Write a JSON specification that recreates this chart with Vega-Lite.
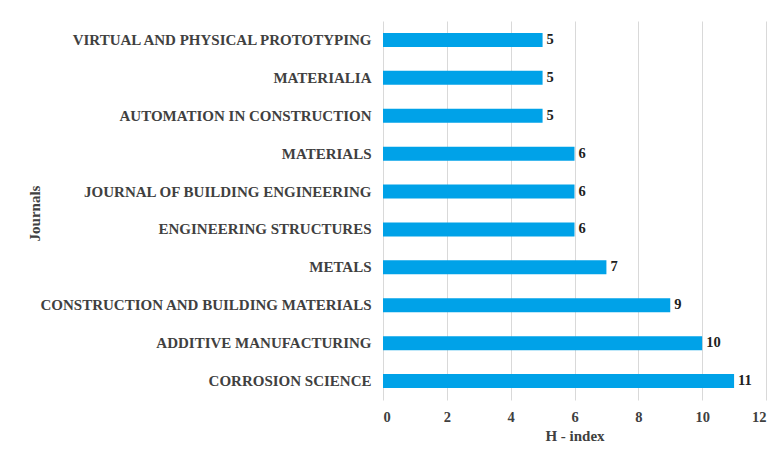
{
  "$schema": "https://vega.github.io/schema/vega-lite/v6.json",
  "autosize": {"type": "none"},
  "width": 383,
  "height": 379,
  "padding": {"left": 383, "top": 21, "right": 8, "bottom": 57},
  "background": "white",
  "config": {
    "view": {"stroke": null},
    "font": "'Liberation Serif', 'Times New Roman', serif"
  },
  "data": {
    "values": [
      {"journal": "VIRTUAL AND PHYSICAL PROTOTYPING", "h": 5},
      {"journal": "MATERIALIA", "h": 5},
      {"journal": "AUTOMATION IN CONSTRUCTION", "h": 5},
      {"journal": "MATERIALS", "h": 6},
      {"journal": "JOURNAL OF BUILDING ENGINEERING", "h": 6},
      {"journal": "ENGINEERING STRUCTURES", "h": 6},
      {"journal": "METALS", "h": 7},
      {"journal": "CONSTRUCTION AND BUILDING MATERIALS", "h": 9},
      {"journal": "ADDITIVE MANUFACTURING", "h": 10},
      {"journal": "CORROSION SCIENCE", "h": 11}
    ]
  },
  "encoding": {
    "y": {
      "field": "journal",
      "type": "nominal",
      "sort": null,
      "scale": {"paddingInner": 0.63, "paddingOuter": 0.315},
      "axis": {
        "title": "Journals",
        "titleFont": "'Liberation Serif', 'Times New Roman', serif",
        "titleFontSize": 15,
        "titleFontWeight": "bold",
        "titleColor": "#404040",
        "titleX": -349,
        "titleY": 192,
        "titleAngle": -90,
        "titleAlign": "center",
        "titleBaseline": "middle",
        "labelFont": "'Liberation Serif', 'Times New Roman', serif",
        "labelFontSize": 15,
        "labelFontWeight": "bold",
        "labelColor": "#404040",
        "labelPadding": 12,
        "labelLimit": 400,
        "ticks": false,
        "domain": false,
        "grid": false
      }
    }
  },
  "layer": [
    {
      "mark": {"type": "bar", "color": "#00a2e8"},
      "encoding": {
        "x": {
          "field": "h",
          "type": "quantitative",
          "scale": {"domain": [0, 12], "nice": false},
          "axis": {
            "values": [0, 2, 4, 6, 8, 10, 12],
            "title": "H - index",
            "titleFont": "'Liberation Serif', 'Times New Roman', serif",
            "titleFontSize": 15,
            "titleFontWeight": "bold",
            "titleColor": "#404040",
            "titlePadding": 5,
            "labelFont": "'Liberation Serif', 'Times New Roman', serif",
            "labelFontSize": 14.5,
            "labelFontWeight": "bold",
            "labelColor": "#404040",
            "labelPadding": 10,
            "ticks": false,
            "domain": false,
            "grid": true,
            "gridColor": "#d9d9d9",
            "gridWidth": 1
          }
        }
      }
    },
    {
      "mark": {"type": "text", "align": "left", "baseline": "middle", "dx": 4, "font": "'Liberation Serif', 'Times New Roman', serif", "fontSize": 14.5, "fontWeight": "bold", "color": "#202020"},
      "encoding": {
        "x": {"field": "h", "type": "quantitative"},
        "text": {"field": "h", "type": "quantitative"}
      }
    }
  ]
}
